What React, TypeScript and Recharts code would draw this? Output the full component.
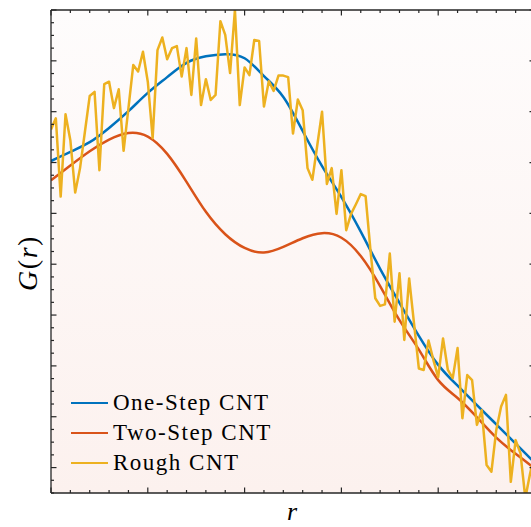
import React from 'react';
import { LineChart, Line, XAxis, YAxis, CartesianGrid, Legend } from 'recharts';

// r grid for the smooth model curves (step 0.2)
const R_SMOOTH = [0, 0.2, 0.4, 0.6, 0.8, 1.0, 1.2, 1.4, 1.6, 1.8, 2.0, 2.2, 2.4, 2.6, 2.8, 3.0, 3.2, 3.4, 3.6, 3.8, 4.0, 4.2, 4.4, 4.6, 4.8, 5.0];
const ONE_STEP = [6.03, 6.21, 6.40, 6.68, 7.01, 7.37, 7.68, 7.96, 8.09, 8.13, 8.05, 7.70, 7.29, 6.62, 5.93, 5.32, 4.64, 3.91, 3.24, 2.59, 2.02, 1.61, 1.23, 0.85, 0.47, 0.09];
const TWO_STEP = [5.65, 5.94, 6.22, 6.45, 6.58, 6.51, 6.17, 5.62, 5.03, 4.59, 4.32, 4.23, 4.34, 4.51, 4.61, 4.52, 4.16, 3.57, 2.90, 2.32, 1.72, 1.37, 0.99, 0.59, 0.27, -0.02];

// rough curve sampled every 0.05 in r
const R_ROUGH_STEP = 0.05;
const ROUGH = [
  6.65, 6.87, 5.33, 6.95, 6.44, 5.41, 5.89, 6.60, 7.31, 7.39,
  5.85, 7.54, 7.59, 7.07, 7.44, 6.23, 7.07, 7.92, 7.79, 8.18,
  7.59, 6.48, 8.21, 8.46, 8.03, 8.25, 8.29, 7.69, 8.25, 7.33,
  8.44, 7.13, 7.64, 7.23, 7.33, 8.78, 8.51, 7.76, 9.0, 7.13,
  7.87, 7.72, 8.41, 8.39, 7.10, 7.60, 7.41, 7.71, 7.71, 7.68,
  6.57, 7.24, 7.03, 5.89, 5.66, 6.33, 7.00, 5.58, 5.89, 4.99,
  5.85, 4.67, 4.99, 5.18, 5.38, 5.34, 4.28, 3.33, 3.18, 3.21,
  4.21, 2.87, 3.82, 2.51, 3.72, 2.84, 1.95, 1.92, 2.50, 2.12,
  1.78, 2.54, 1.92, 1.76, 2.35, 0.97, 1.82, 1.72, 0.84, 1.13,
  0.05, -0.08, 0.74, 1.20, 1.43, -0.28, 0.54, 0.28, -0.6, -0.11,
  0.3,
];

const X_TICKS = [0, 0.2, 0.4, 0.6, 0.8, 1, 1.2, 1.4, 1.6, 1.8, 2, 2.2, 2.4, 2.6, 2.8, 3, 3.2, 3.4, 3.6, 3.8, 4, 4.2, 4.4, 4.6, 4.8, 5];
const Y_TICKS = [-0.5, -0.25, 0, 0.25, 0.5, 0.75, 1, 1.25, 1.5, 1.75, 2, 2.25, 2.5, 2.75, 3, 3.25, 3.5, 3.75, 4, 4.25, 4.5, 4.75, 5, 5.25, 5.5, 5.75, 6, 6.25, 6.5, 6.75, 7, 7.25, 7.5, 7.75, 8, 8.25, 8.5, 8.75, 9];

const SERIES_NAMES = ['One-Step CNT', 'Two-Step CNT', 'Rough CNT'];
const COLORS = ['#0072BD', '#D95319', '#EDB120'];

const oneStepData = R_SMOOTH.map((r, i) => ({ r, v: ONE_STEP[i] }));
const twoStepData = R_SMOOTH.map((r, i) => ({ r, v: TWO_STEP[i] }));
const roughData = ROUGH.map((v, i) => ({ r: +(i * R_ROUGH_STEP).toFixed(2), v }));

const AXIS_COLOR = '#262626';
const SERIF = '"Liberation Serif", "Times New Roman", serif';

const isMajor = (v: number) => Math.abs(v - Math.round(v)) < 1e-6;
const tickLen = (v: number) => (isMajor(v) ? 5.5 : 3);

const BottomTick = (p: any) => (
  <line x1={p.x} x2={p.x} y1={p.y} y2={p.y - tickLen(p.payload.value)} stroke={AXIS_COLOR} strokeWidth={1.2} />
);
const TopTick = (p: any) => (
  <line x1={p.x} x2={p.x} y1={p.y} y2={p.y + tickLen(p.payload.value)} stroke={AXIS_COLOR} strokeWidth={1.2} />
);
const LeftTick = (p: any) => (
  <line x1={p.x} x2={p.x + tickLen(p.payload.value)} y1={p.y} y2={p.y} stroke={AXIS_COLOR} strokeWidth={1.2} />
);
const RightTick = (p: any) => (
  <line x1={p.x} x2={p.x - tickLen(p.payload.value)} y1={p.y} y2={p.y} stroke={AXIS_COLOR} strokeWidth={1.2} />
);

const LegendContent = () => (
  <div style={{ fontFamily: SERIF, fontSize: 23, letterSpacing: 1.5, color: '#000' }}>
    {SERIES_NAMES.map((name, i) => (
      <div key={name} style={{ display: 'flex', alignItems: 'center', height: 30 }}>
        <div style={{ width: 37, height: 2.5, background: COLORS[i], marginRight: 5 }} />
        <span style={{ lineHeight: '30px', whiteSpace: 'nowrap' }}>{name}</span>
      </div>
    ))}
  </div>
);

const YLabel = () => (
  <text
    x={37}
    y={263}
    transform="rotate(-90, 37, 263)"
    textAnchor="middle"
    fontFamily={SERIF}
    fontSize={28}
    letterSpacing={1.5}
    fill="#000"
  >
    <tspan fontStyle="italic">G</tspan>
    <tspan>(</tspan>
    <tspan fontStyle="italic">r</tspan>
    <tspan>)</tspan>
  </text>
);

const XLabel = () => (
  <text x={292} y={520} textAnchor="middle" fontFamily={SERIF} fontSize={26} fontStyle="italic" fill="#000">
    r
  </text>
);

export default function App() {
  return (
    <div style={{ position: 'absolute', left: 0, top: 0, width: 531, height: 527, overflow: 'hidden', background: '#fff' }}>
      <LineChart width={540} height={527} margin={{ top: 9, right: 4, bottom: 33, left: 50 }}>
        <defs>
          <linearGradient id="bgGrad" x1="0" y1="0" x2="0" y2="1">
            <stop offset="0%" stopColor="#fefcfc" />
            <stop offset="100%" stopColor="#fcf1ee" />
          </linearGradient>
        </defs>
        <CartesianGrid fill="url(#bgGrad)" stroke="transparent" />
        <XAxis
          dataKey="r"
          type="number"
          domain={[0, 5]}
          ticks={X_TICKS}
          interval={0}
          allowDataOverflow
          height={1}
          tickSize={0}
          tickMargin={0}
          tick={BottomTick}
          axisLine={{ stroke: AXIS_COLOR, strokeWidth: 1.3 }}
          tickLine={false}
          label={<XLabel />}
        />
        <XAxis
          xAxisId="top"
          orientation="top"
          dataKey="r"
          type="number"
          domain={[0, 5]}
          ticks={X_TICKS}
          interval={0}
          allowDataOverflow
          height={1}
          tickSize={0}
          tickMargin={0}
          tick={TopTick}
          axisLine={{ stroke: AXIS_COLOR, strokeWidth: 1.3 }}
          tickLine={false}
        />
        <YAxis
          type="number"
          domain={[-0.5, 9]}
          ticks={Y_TICKS}
          interval={0}
          allowDataOverflow
          width={1}
          tickSize={0}
          tickMargin={0}
          tick={LeftTick}
          axisLine={{ stroke: AXIS_COLOR, strokeWidth: 1.3 }}
          tickLine={false}
          label={<YLabel />}
        />
        <YAxis
          yAxisId="right"
          orientation="right"
          type="number"
          domain={[-0.5, 9]}
          ticks={Y_TICKS}
          interval={0}
          allowDataOverflow
          width={1}
          tickSize={0}
          tickMargin={0}
          tick={RightTick}
          axisLine={{ stroke: AXIS_COLOR, strokeWidth: 1.3 }}
          tickLine={false}
        />
        <Legend
          layout="vertical"
          align="center"
          verticalAlign="middle"
          content={LegendContent}
          wrapperStyle={{ left: 71, top: 388, width: 'auto', height: 'auto' }}
        />
        <Line data={oneStepData} dataKey="v" name={SERIES_NAMES[0]} type="natural" stroke={COLORS[0]} strokeWidth={2.5} dot={false} isAnimationActive={false} />
        <Line data={twoStepData} dataKey="v" name={SERIES_NAMES[1]} type="natural" stroke={COLORS[1]} strokeWidth={2.5} dot={false} isAnimationActive={false} />
        <Line data={roughData} dataKey="v" name={SERIES_NAMES[2]} type="linear" stroke={COLORS[2]} strokeWidth={2.5} strokeLinejoin="round" dot={false} isAnimationActive={false} />
      </LineChart>
    </div>
  );
}
